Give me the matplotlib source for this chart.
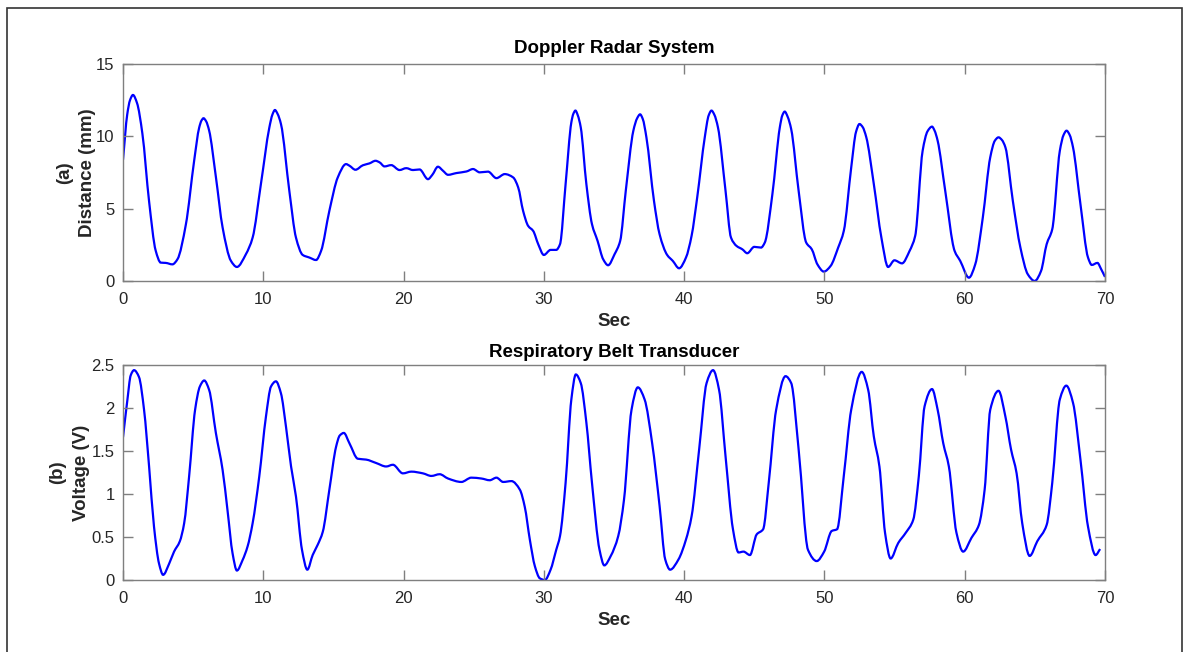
import matplotlib
matplotlib.use("Agg")
import matplotlib.pyplot as plt
from matplotlib.patches import Rectangle, PathPatch
from matplotlib.path import Path

# ---- data ----
t_radar = [0, 0.3, 0.5, 0.71, 1.0, 1.38, 1.86, 2.33, 2.69, 3.05, 3.52, 3.88, 4.48, 5.07, 5.43,
           5.6, 5.74, 5.92, 6.14, 6.62, 7.1, 7.69, 8.12, 8.76, 9.24, 9.83, 10.43, 10.65, 10.83,
           11.02, 11.26, 11.86, 12.33, 12.81, 13.29, 13.76, 14.12, 14.71, 15.31, 15.9, 16.14,
           16.57, 17.1, 17.57, 18.0, 18.29, 18.64, 19.12, 19.71, 20.19, 20.67, 21.14, 21.74,
           22.05, 22.45, 22.81, 23.17, 23.76, 24.48, 24.95, 25.43, 26.02, 26.62, 27.21, 27.81,
           28.17, 28.52, 28.88, 29.24, 29.6, 30.0, 30.48, 30.88, 31.15, 31.55, 31.96, 32.1,
           32.25, 32.42, 32.63, 33.03, 33.43, 33.83, 34.23, 34.58, 35.04, 35.44, 35.84, 36.38,
           36.65, 36.86, 37.05, 37.31, 37.85, 38.25, 38.79, 39.19, 39.64, 40.13, 40.53, 40.93,
           41.47, 41.75, 41.95, 42.15, 42.41, 42.95, 43.34, 43.74, 44.15, 44.5, 45.0, 45.48,
           45.75, 46.29, 46.82, 47.0, 47.17, 47.38, 47.63, 48.16, 48.7, 49.1, 49.5, 49.96,
           50.44, 50.98, 51.38, 51.91, 52.25, 52.5, 52.72, 52.98, 53.52, 54.06, 54.54, 54.99,
           55.53, 56.07, 56.47, 57.0, 57.35, 57.67, 57.85, 58.07, 58.61, 59.28, 59.68, 60.3,
           60.75, 61.29, 61.82, 62.15, 62.41, 62.65, 62.9, 63.43, 63.97, 64.5, 64.99, 65.44,
           65.84, 66.24, 66.78, 67.05, 67.26, 67.48, 67.72, 68.25, 68.79, 69.06, 69.46, 69.73,
           70.0]
d_radar = [8.38, 11.5, 12.5, 12.86, 12.3, 10.2, 5.5, 2.1, 1.27, 1.25, 1.15, 1.5, 3.9, 8.3, 10.6,
           11.1, 11.25, 11.05, 10.4, 7.2, 3.7, 1.4, 0.97, 1.85, 3.0, 6.7, 10.6, 11.5, 11.82,
           11.55, 10.85, 6.2, 3.0, 1.8, 1.62, 1.45, 2.08, 4.85, 7.16, 8.08, 7.97,
           7.69, 8.0, 8.13, 8.31, 8.2, 7.92, 8.01, 7.67, 7.8, 7.67, 7.71, 7.04,
           7.34, 7.9, 7.62, 7.34, 7.46, 7.57, 7.74, 7.51, 7.56, 7.11, 7.39, 7.16,
           6.47, 4.85, 3.81, 3.46, 2.54, 1.8, 2.15, 2.15, 2.54, 6.7, 10.97, 11.55,
           11.78, 11.45, 10.62, 6.7, 3.93, 2.77, 1.5, 1.09, 1.85, 2.77, 6.24, 10.39,
           11.25, 11.52, 11.2, 9.93, 5.54, 3.23, 1.8, 1.39, 0.88, 1.62, 3.12, 5.77,
           9.93, 11.45, 11.78, 11.5, 10.62, 6.24, 3.0, 2.42, 2.19, 1.92, 2.36, 2.31,
           2.66, 6.0, 10.62, 11.45, 11.71, 11.35, 10.5, 6.24, 2.66, 2.19, 1.15, 0.65,
           1.04, 2.31, 3.46, 7.85, 10.3, 10.85, 10.65, 9.95, 6.7, 3.0, 0.97, 1.43,
           1.22, 2.08, 3.12, 9.0, 10.35, 10.67, 10.4, 9.7, 6.24, 2.08, 1.39, 0.23,
           1.15, 4.39, 8.55, 9.7, 9.93, 9.75, 9.24, 5.54, 2.31, 0.46, 0.0, 0.69,
           2.54, 3.58, 9.0, 10.1, 10.39, 10.1, 9.24, 5.31, 1.62, 1.11, 1.25, 0.81,
           0.28]

t_belt = [0, 0.31, 0.55, 0.79, 1.14, 1.5, 1.86, 2.21, 2.57, 2.86, 3.29, 3.64, 4.05, 4.36, 4.71,
          5.14, 5.48, 5.79, 6.14, 6.62, 7.1, 7.45, 7.81, 8.12, 8.52, 8.88, 9.24, 9.71, 10.19,
          10.55, 10.9, 11.26, 11.62, 11.98, 12.33, 12.76, 13.14, 13.52, 13.88, 14.24, 14.71,
          15.19, 15.45, 15.74, 16.14, 16.74, 17.33, 18.05, 18.76, 19.24, 19.95, 20.55, 21.38,
          21.98, 22.57, 23.17, 24.12, 24.83, 25.55, 26.14, 26.62, 27.1, 27.69, 28.29, 28.64,
          29.0, 29.36, 29.71, 30.07, 30.48, 30.88, 31.15, 31.55, 31.96, 32.28, 32.63, 33.03,
          33.43, 33.97, 34.31, 34.77, 35.3, 35.71, 36.25, 36.7, 37.18, 37.72, 38.25, 38.65,
          39.0, 39.6, 40.13, 40.53, 41.07, 41.6, 42.06, 42.49, 42.95, 43.48, 43.88, 44.23,
          44.69, 45.17, 45.63, 46.03, 46.56, 47.23, 47.63, 48.16, 48.83, 49.45, 49.98, 50.52,
          50.9, 51.38, 51.91, 52.66, 53.12, 53.52, 53.92, 54.32, 54.72, 55.26, 55.8, 56.33,
          56.73, 57.14, 57.67, 58.07, 58.47, 58.87, 59.41, 59.89, 60.48, 61.01, 61.42, 61.82,
          62.41, 62.9, 63.3, 63.7, 64.1, 64.63, 65.17, 65.84, 66.24, 66.78, 67.24, 67.72,
          68.25, 68.79, 69.33, 69.65]
v_belt = [1.66, 2.09, 2.38, 2.44, 2.36, 1.98, 1.32, 0.62, 0.19, 0.06, 0.19, 0.33, 0.45, 0.66, 1.2,
          1.98, 2.25, 2.32, 2.21, 1.71, 1.28, 0.81, 0.31, 0.11, 0.23, 0.39, 0.66, 1.2, 1.9,
          2.25, 2.31, 2.17, 1.78, 1.32, 0.97, 0.35, 0.12, 0.29, 0.41, 0.56, 1.05,
          1.55, 1.68, 1.71, 1.59, 1.41, 1.40, 1.36, 1.32, 1.34, 1.24, 1.26, 1.24,
          1.21, 1.23, 1.18, 1.14, 1.19, 1.18, 1.16, 1.19, 1.14, 1.15, 1.05, 0.85,
          0.47, 0.16, 0.02, 0.0, 0.12, 0.35, 0.51, 1.13, 2.1, 2.39, 2.29, 1.83,
          1.13, 0.35, 0.17, 0.28, 0.51, 0.93, 1.98, 2.24, 2.1, 1.59, 0.86, 0.24,
          0.12, 0.24, 0.47, 0.74, 1.52, 2.29, 2.44, 2.21, 1.44, 0.59, 0.32, 0.33,
          0.29, 0.53, 0.59, 1.13, 1.98, 2.37, 2.29, 1.52, 0.35, 0.22, 0.33, 0.57,
          0.59, 1.21, 1.98, 2.42, 2.21, 1.67, 1.32, 0.55, 0.25, 0.43, 0.55, 0.70,
          1.21, 2.02, 2.22, 1.98, 1.59, 1.32, 0.55, 0.33, 0.49, 0.64, 1.05, 1.98,
          2.2, 1.9, 1.52, 1.24, 0.66, 0.28, 0.45, 0.64, 1.13, 2.1, 2.26, 2.06,
          1.4, 0.62, 0.29, 0.36]

x_ticks = [0, 10, 20, 30, 40, 50, 60, 70]
y_ticks_a = [0, 5, 10, 15]
y_ticks_b = [0, 0.5, 1, 1.5, 2, 2.5]
y_ticklabels_b = ["0", "0.5", "1", "1.5", "2", "2.5"]


def smooth_path(x, y):
    """Cubic Bezier path through the read points (monotone Hermite tangents)."""
    n = len(x)
    h = [x[i + 1] - x[i] for i in range(n - 1)]
    d = [(y[i + 1] - y[i]) / h[i] for i in range(n - 1)]
    m = [0.0] * n
    m[0], m[-1] = d[0], d[-1]
    for i in range(1, n - 1):
        if d[i - 1] * d[i] <= 0:
            m[i] = 0.0
        else:
            w1 = 2 * h[i] + h[i - 1]
            w2 = h[i] + 2 * h[i - 1]
            m[i] = (w1 + w2) / (w1 / d[i - 1] + w2 / d[i])
    verts = [(x[0], y[0])]
    codes = [Path.MOVETO]
    for i in range(n - 1):
        verts += [(x[i] + h[i] / 3, y[i] + m[i] * h[i] / 3),
                  (x[i + 1] - h[i] / 3, y[i + 1] - m[i + 1] * h[i] / 3),
                  (x[i + 1], y[i + 1])]
        codes += [Path.CURVE4] * 3
    return Path(verts, codes)


plt.rcParams['font.family'] = ['Liberation Sans', 'DejaVu Sans']

W, H = 1185, 652
fig = plt.figure(figsize=(W / 100, H / 100), dpi=100)
fig.patch.set_facecolor('white')

# outer frame
fig.patches.append(Rectangle((7 / W, -0.01), (1182 - 7) / W, 1 - 8 / H + 0.01,
                             transform=fig.transFigure, fill=False,
                             edgecolor='#333333', linewidth=1.2))

ax1 = fig.add_axes([123 / W, 1 - 281 / H, (1105 - 123) / W, (281 - 64) / H])
ax2 = fig.add_axes([123 / W, 1 - 580 / H, (1105 - 123) / W, (580 - 365) / H])

tick_color = '#262626'
spine_color = '#7f7f7f'
line_color = '#0000ff'


def style(ax):
    for s in ax.spines.values():
        s.set_color(spine_color)
        s.set_linewidth(1.0)
    ax.tick_params(direction='in', length=7, width=1.0, color=spine_color,
                   labelcolor=tick_color, labelsize=12, top=True, right=True, pad=6)
    ax.tick_params(axis='x', pad=8)
    ax.set_xlim(0, 70)
    ax.set_xticks(x_ticks)


ax1.add_patch(PathPatch(smooth_path(t_radar, d_radar), fill=False,
                        edgecolor=line_color, lw=1.6))
style(ax1)
ax1.set_ylim(0, 15)
ax1.set_yticks(y_ticks_a)
ax1.set_title('Doppler Radar System', fontsize=13.5, fontweight='bold', pad=8)
ax1.set_xlabel('Sec', fontsize=13.5, fontweight='bold', color='#262626', labelpad=4)
ax1.set_ylabel('(a)\nDistance (mm)', fontsize=13.5, fontweight='bold', color='#262626',
               linespacing=1.4)
ax1.yaxis.set_label_coords(-0.028, 0.5)

ax2.add_patch(PathPatch(smooth_path(t_belt, v_belt), fill=False,
                        edgecolor=line_color, lw=1.6))
style(ax2)
ax2.set_ylim(0, 2.5)
ax2.set_yticks(y_ticks_b)
ax2.set_yticklabels(y_ticklabels_b)
ax2.set_title('Respiratory Belt Transducer', fontsize=13.5, fontweight='bold', pad=6)
ax2.set_xlabel('Sec', fontsize=13.5, fontweight='bold', color='#262626', labelpad=4)
ax2.set_ylabel('(b)\nVoltage (V)', fontsize=13.5, fontweight='bold', color='#262626',
               linespacing=1.5)
ax2.yaxis.set_label_coords(-0.0335, 0.5)

fig.savefig('out.png', dpi=100, facecolor='white')
